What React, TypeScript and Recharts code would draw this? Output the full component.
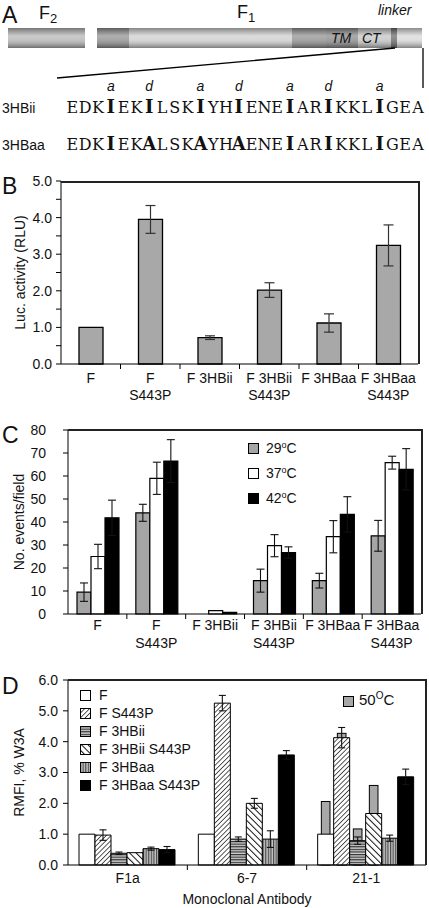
import React from 'react'
import {Bar, BarChart, ErrorBar, XAxis, YAxis} from 'recharts'

const FONT = '"Liberation Sans", Arial, sans-serif'

// panel A
const heptad = ['a', 'd', 'a', 'd', 'a', 'd', 'a']
const heptadIndex = [3, 6, 10, 13, 17, 20, 24]
const seqIi = 'EDKIEKILSKIYHIENEIARIKKLIGEA'
const seqAa = 'EDKIEKALSKAYHAENEIARIKKLIGEA'

// panel B
const constructs = ['F', 'F S443P', 'F 3HBii', 'F 3HBii S443P', 'F 3HBaa', 'F 3HBaa S443P']
const lucActivity = [1.0, 3.95, 0.72, 2.02, 1.12, 3.24]
const lucError = [0, 0.38, 0.05, 0.2, 0.25, 0.56]
const lucTicks = [0, 0.5, 1, 1.5, 2, 2.5, 3, 3.5, 4, 4.5, 5]

// panel C
const events29 = [9.5, 44, 0, 14.5, 14.5, 34]
const events29Err = [4, 3.7, 0, 5, 3.2, 6.7]
const events37 = [25, 59, 1.5, 29.7, 33.6, 65.8]
const events37Err = [5.3, 7, 0, 4.8, 7, 2.8]
const events42 = [41.8, 66.5, 0.7, 26.7, 43.3, 62.9]
const events42Err = [7.7, 9.3, 0, 2.5, 7.7, 9]
const eventTicks = [0, 10, 20, 30, 40, 50, 60, 70, 80]

// panel D
const antibodies = ['F1a', '6-7', '21-1']
const rmfiF = [1.0, 1.0, 1.0]
const rmfiS443P = [0.97, 5.25, 4.13]
const rmfiS443PErr = [0.17, 0.25, 0.33]
const rmfiIi = [0.38, 0.84, 0.79]
const rmfiIiErr = [0.04, 0.07, 0.12]
const rmfiIiS443P = [0.4, 2.0, 1.67]
const rmfiIiS443PErr = [0, 0.16, 0]
const rmfiAa = [0.53, 0.84, 0.87]
const rmfiAaErr = [0.05, 0.27, 0.1]
const rmfiAaS443P = [0.5, 3.57, 2.86]
const rmfiAaS443PErr = [0.1, 0.14, 0.25]
const heat50F = [null, null, 2.06]
const heat50S443P = [null, null, 4.27]
const heat50Ii = [null, null, 1.17]
const heat50IiS443P = [null, null, 2.58]
const rmfiTicks = [0, 1, 2, 3, 4, 5, 6]

const dSeries = [
    {key: 'F', name: 'F', fill: '#fff'},
    {key: 'S443P', name: 'F S443P', fill: 'url(#hatchS443P)'},
    {key: 'Ii', name: 'F 3HBii', fill: 'url(#hatchIi)'},
    {key: 'IiS443P', name: 'F 3HBii S443P', fill: 'url(#hatchIiS443P)'},
    {key: 'Aa', name: 'F 3HBaa', fill: 'url(#hatchAa)'},
    {key: 'AaS443P', name: 'F 3HBaa S443P', fill: '#000'},
]

const lucData = constructs.map((name, i) => ({name, value: lucActivity[i], err: lucError[i]}))
const eventData = constructs.map((name, i) => ({
    name,
    t29: events29[i], t29Err: events29Err[i],
    t37: events37[i], t37Err: events37Err[i],
    t42: events42[i], t42Err: events42Err[i],
}))
const rmfiData = antibodies.map((name, i) => ({
    name,
    F: rmfiF[i],
    S443P: rmfiS443P[i], S443PErr: rmfiS443PErr[i],
    Ii: rmfiIi[i], IiErr: rmfiIiErr[i],
    IiS443P: rmfiIiS443P[i], IiS443PErr: rmfiIiS443PErr[i],
    Aa: rmfiAa[i], AaErr: rmfiAaErr[i],
    AaS443P: rmfiAaS443P[i], AaS443PErr: rmfiAaS443PErr[i],
}))
const heatData = antibodies.map((name, i) => ({
    name,
    F: heat50F[i], S443P: heat50S443P[i], Ii: heat50Ii[i], IiS443P: heat50IiS443P[i], Aa: null, AaS443P: null,
}))

// "F 3HBii S443P" -> ["F 3HBii", "S443P"]
const splitLabel = (label: string) => {
    if (!label.endsWith(' S443P')) return [label]
    return [label.slice(0, -6), 'S443P']
}

const CategoryTick = (props: any) => {
    const {x, y, payload, index, catWidth, lineGap, first} = props
    const lines = splitLabel(payload.value)
    return (
        <g>
            {index > 0 && <line x1={x - catWidth / 2} x2={x - catWidth / 2} y1={y} y2={y + 5} stroke='#000'/>}
            {lines.map((line: string, i: number) => (
                <text key={i} x={x} y={y + first + i * lineGap} textAnchor='middle'
                      fontSize={14} fontFamily={FONT} fill='#111'>{line}</text>
            ))}
        </g>
    )
}

const axisProps = {stroke: '#000', tick: {fontSize: 14, fill: '#111', fontFamily: FONT}}

const Deg = ({t, big}: {t: string, big?: boolean}) => (
    <span>{t}<span style={{fontSize: big ? 10 : 9, position: 'relative', top: big ? -6 : -5}}>{big ? 'O' : 'o'}</span>C</span>
)

// plot box outline: top edge and right edge of each panel
const FrameLines = ({x0, y0, x1, y1}: {x0: number, y0: number, x1: number, y1: number}) => (
    <>
        <div style={{position: 'absolute', left: x0, top: y0, width: x1 - x0 + 2, height: 2, background: '#222'}}/>
        <div style={{position: 'absolute', left: x1, top: y0, width: 2, height: y1 - y0, background: '#222'}}/>
    </>
)

const Cylinder = () => {
    const f1 = [
        {x0: 97, x1: 129, c: '#8e8e8e'},
        {x0: 129, x1: 292, c: '#cdcdcd'},
        {x0: 292, x1: 326, c: '#8e8e8e'},
        {x0: 326, x1: 358, c: '#888'},
        {x0: 358, x1: 391, c: '#c2c2c2'},
        {x0: 391, x1: 397, c: '#666'},
        {x0: 397, x1: 422, c: '#d6d6d6'},
    ]
    return (
        <g>
            <defs>
                <linearGradient id='shade' x1='0' y1='0' x2='0' y2='1'>
                    <stop offset='0%' stopColor='#000' stopOpacity={0.35}/>
                    <stop offset='40%' stopColor='#fff' stopOpacity={0.3}/>
                    <stop offset='60%' stopColor='#fff' stopOpacity={0.2}/>
                    <stop offset='100%' stopColor='#000' stopOpacity={0.4}/>
                </linearGradient>
            </defs>
            <rect x={8} y={28} width={77} height={20} fill='#b4b4b4'/>
            <rect x={8} y={28} width={77} height={20} fill='url(#shade)'/>
            {f1.map((s, i) => <rect key={i} x={s.x0} y={28} width={s.x1 - s.x0} height={20} fill={s.c}/>)}
            <rect x={97} y={28} width={325} height={20} fill='url(#shade)'/>
            <text x={331} y={43} fontSize={14} fontStyle='italic' fontFamily={FONT} fill='#111'>TM</text>
            <text x={362} y={43} fontSize={14} fontStyle='italic' fontFamily={FONT} fill='#111'>CT</text>
            <line x1={395} y1={48} x2={57} y2={78} stroke='#000' strokeWidth={1.3}/>
            <line x1={423} y1={48} x2={423} y2={88} stroke='#000' strokeWidth={1.3}/>
        </g>
    )
}

const Sequence = ({seq, y}: {seq: string, y: number}) => (
    <g>
        {seq.split('').map((ch, i) => {
            const bold = heptadIndex.includes(i)
            return (
                <text key={i} x={66 + (i + 0.5) * 12.8} y={y} textAnchor='middle'
                      fontFamily='"DejaVu Serif", serif' fontSize={bold ? 18 : 16}
                      fontWeight={bold ? 'bold' : 'normal'} fill='#111'>{ch}</text>
            )
        })}
    </g>
)

const Square = ({fill}: {fill: string}) => (
    <svg width={11} height={11} style={{display: 'block'}}>
        <rect x={0.5} y={0.5} width={10} height={10} fill={fill} stroke='#000'/>
    </svg>
)

const App = () => {
    return (
        <div style={{position: 'absolute', left: 0, top: 0, width: 429, height: 908, background: '#fff', fontFamily: FONT}}>
            <svg width={429} height={908} style={{position: 'absolute', left: 0, top: 0}}>
                <text x={2} y={23} fontSize={23} fontFamily={FONT} fill='#111'>A</text>
                <text x={39} y={19} fontSize={18} fontFamily={FONT} fill='#111'>F<tspan fontSize={13} dy={4}>2</tspan></text>
                <text x={237} y={18} fontSize={18} fontFamily={FONT} fill='#111'>F<tspan fontSize={13} dy={4}>1</tspan></text>
                <text x={378} y={15} fontSize={14} fontStyle='italic' fontFamily={FONT} fill='#111'>linker</text>
                <Cylinder/>
                {heptad.map((h, i) => (
                    <text key={i} x={66 + (heptadIndex[i] + 0.5) * 12.8} y={91} textAnchor='middle'
                          fontSize={14} fontStyle='italic' fontFamily={FONT} fill='#111'>{h}</text>
                ))}
                <text x={2} y={113} fontSize={14} fontFamily={FONT} fill='#111'>3HBii</text>
                <Sequence seq={seqIi} y={113}/>
                <text x={2} y={150} fontSize={14} fontFamily={FONT} fill='#111'>3HBaa</text>
                <Sequence seq={seqAa} y={150}/>
                <text x={2} y={194} fontSize={23} fontFamily={FONT} fill='#111'>B</text>
                <text x={2} y={443} fontSize={23} fontFamily={FONT} fill='#111'>C</text>
                <text x={2} y={694} fontSize={23} fontFamily={FONT} fill='#111'>D</text>
            </svg>

            <div style={{position: 'absolute', left: 0, top: 166}}>
                <BarChart width={429} height={249} data={lucData} barCategoryGap={18}
                          margin={{top: 15, right: 11, bottom: 0, left: 0}}>
                    <XAxis dataKey='name' height={51} stroke='#000' tickLine={false} tickSize={0} tickMargin={0}
                           interval={0} tick={<CategoryTick catWidth={59.5} first={19} lineGap={17}/>}/>
                    <YAxis width={61} domain={[0, 5]} ticks={lucTicks} interval={0} tickSize={5} tickMargin={4}
                           tickFormatter={(v: number) => Number.isInteger(v) ? v.toFixed(1) : ''} {...axisProps}
                           label={{value: 'Luc. activity (RLU)', angle: -90, position: 'insideLeft', offset: 20,
                               style: {textAnchor: 'middle', fontSize: 14, fill: '#111', fontFamily: FONT}}}/>
                    <Bar dataKey='value' fill='#a8a8a8' stroke='#000' strokeWidth={1.3} isAnimationActive={false}>
                        <ErrorBar dataKey='err' width={5} stroke='#333' strokeWidth={1.2} direction='y'/>
                    </Bar>
                </BarChart>
            </div>
            <FrameLines x0={61} y0={181} x1={418} y1={364}/>

            <div style={{position: 'absolute', left: 0, top: 420}}>
                <BarChart width={429} height={239} data={eventData} barCategoryGap={9} barGap={0}
                          margin={{top: 10, right: 8, bottom: 0, left: 0}}>
                    <XAxis dataKey='name' height={45} stroke='#000' tickLine={false} tickSize={0} tickMargin={0}
                           interval={0} tick={<CategoryTick catWidth={58.8} first={16} lineGap={18}/>}/>
                    <YAxis width={68} domain={[0, 80]} ticks={eventTicks} interval={0} tickSize={5} tickMargin={17}
                           {...axisProps}
                           label={{value: 'No. events/field', angle: -90, position: 'insideLeft', offset: 19,
                               style: {textAnchor: 'middle', fontSize: 14, fill: '#111', fontFamily: FONT}}}/>
                    <Bar dataKey='t29' fill='#a5a5a5' stroke='#000' strokeWidth={1.2} isAnimationActive={false}>
                        <ErrorBar dataKey='t29Err' width={4} stroke='#111' strokeWidth={1.1} direction='y'/>
                    </Bar>
                    <Bar dataKey='t37' fill='#fff' stroke='#000' strokeWidth={1.2} isAnimationActive={false}>
                        <ErrorBar dataKey='t37Err' width={4} stroke='#111' strokeWidth={1.1} direction='y'/>
                    </Bar>
                    <Bar dataKey='t42' fill='#000' stroke='#000' strokeWidth={1.2} isAnimationActive={false}>
                        <ErrorBar dataKey='t42Err' width={4} stroke='#111' strokeWidth={1.1} direction='y'/>
                    </Bar>
                </BarChart>
            </div>
            <FrameLines x0={68} y0={429} x1={421} y1={614}/>

            <div style={{position: 'absolute', left: 248, top: 436, fontSize: 14, color: '#111', lineHeight: '16px'}}>
                {[{t: '29', c: '#a5a5a5'}, {t: '37', c: '#fff'}, {t: '42', c: '#000'}].map((l, i) => (
                    <div key={i} style={{display: 'flex', alignItems: 'center', height: 25}}>
                        <Square fill={l.c}/>
                        <span style={{marginLeft: 7}}><Deg t={l.t}/></span>
                    </div>
                ))}
            </div>

            <div style={{position: 'absolute', left: 0, top: 672}}>
                <BarChart width={429} height={236} data={heatData} barCategoryGap={11} barGap={0}
                          margin={{top: 8, right: 3, bottom: 43, left: 68}}>
                    <XAxis dataKey='name' hide/>
                    <YAxis domain={[0, 6]} hide/>
                    {dSeries.map(s => (
                        <Bar key={s.key} dataKey={s.key} fill='#a8a8a8' stroke='#000' strokeWidth={1}
                             isAnimationActive={false}
                             shape={(p: any) => p.height > 0
                                 ? <rect x={p.x + p.width * 0.23} y={p.y} width={p.width * 0.54} height={p.height}
                                         fill='#a8a8a8' stroke='#000' strokeWidth={1}/>
                                 : <g/>}/>
                    ))}
                </BarChart>
            </div>

            <div style={{position: 'absolute', left: 0, top: 672}}>
                <BarChart width={429} height={236} data={rmfiData} barCategoryGap={11} barGap={0}
                          margin={{top: 8, right: 3, bottom: 0, left: 0}}>
                    <defs>
                        <pattern id='hatchS443P' patternUnits='userSpaceOnUse' width={3.4} height={3.4} patternTransform='rotate(45)'>
                            <rect width={3.4} height={3.4} fill='#fff'/>
                            <line x1={0} y1={0} x2={0} y2={3.4} stroke='#111' strokeWidth={1.4}/>
                        </pattern>
                        <pattern id='hatchIi' patternUnits='userSpaceOnUse' width={4} height={2.6}>
                            <rect width={4} height={2.6} fill='#cfcfcf'/>
                            <line x1={0} y1={0.6} x2={4} y2={0.6} stroke='#333' strokeWidth={1.2}/>
                        </pattern>
                        <pattern id='hatchIiS443P' patternUnits='userSpaceOnUse' width={4.6} height={4.6} patternTransform='rotate(-45)'>
                            <rect width={4.6} height={4.6} fill='#fff'/>
                            <line x1={0} y1={0} x2={0} y2={4.6} stroke='#111' strokeWidth={2}/>
                        </pattern>
                        <pattern id='hatchAa' patternUnits='userSpaceOnUse' width={2.6} height={4}>
                            <rect width={2.6} height={4} fill='#c4c4c4'/>
                            <line x1={0.6} y1={0} x2={0.6} y2={4} stroke='#444' strokeWidth={1.1}/>
                        </pattern>
                    </defs>
                    <XAxis dataKey='name' height={43} stroke='#000' tickLine={false} tickSize={0} tickMargin={0}
                           interval={0} tick={<CategoryTick catWidth={119.3} first={18} lineGap={17}/>}
                           label={{value: 'Monoclonal Antibody', position: 'insideBottom', offset: 4,
                               style: {fontSize: 14, fill: '#111', fontFamily: FONT}}}/>
                    <YAxis width={68} domain={[0, 6]} ticks={rmfiTicks} interval={0} tickSize={5} tickMargin={5}
                           tickFormatter={(v: number) => v.toFixed(1)} {...axisProps}
                           label={{value: 'RMFI, % W3A', angle: -90, position: 'insideLeft', offset: 19,
                               style: {textAnchor: 'middle', fontSize: 14, fill: '#111', fontFamily: FONT}}}/>
                    {dSeries.map(s => (
                        <Bar key={s.key} dataKey={s.key} fill={s.fill} stroke='#000' strokeWidth={1}
                             isAnimationActive={false}>
                            {s.key !== 'F' && <ErrorBar dataKey={s.key + 'Err'} width={3.5} stroke='#111' strokeWidth={1.1} direction='y'/>}
                        </Bar>
                    ))}
                </BarChart>
            </div>
            <FrameLines x0={68} y0={679} x1={425} y1={865}/>

            <div style={{position: 'absolute', left: 80, top: 686, fontSize: 14, color: '#111', lineHeight: '14px'}}>
                {dSeries.map(s => (
                    <div key={s.key} style={{display: 'flex', alignItems: 'center', height: 18}}>
                        <Square fill={s.fill}/>
                        <span style={{marginLeft: 8}}>{s.name}</span>
                    </div>
                ))}
            </div>
            <div style={{position: 'absolute', left: 343, top: 692, fontSize: 15, color: '#111', display: 'flex', alignItems: 'center', lineHeight: '16px'}}>
                <Square fill='#a8a8a8'/>
                <span style={{marginLeft: 5}}><Deg t='50' big/></span>
            </div>
        </div>
    )
}

export default App
